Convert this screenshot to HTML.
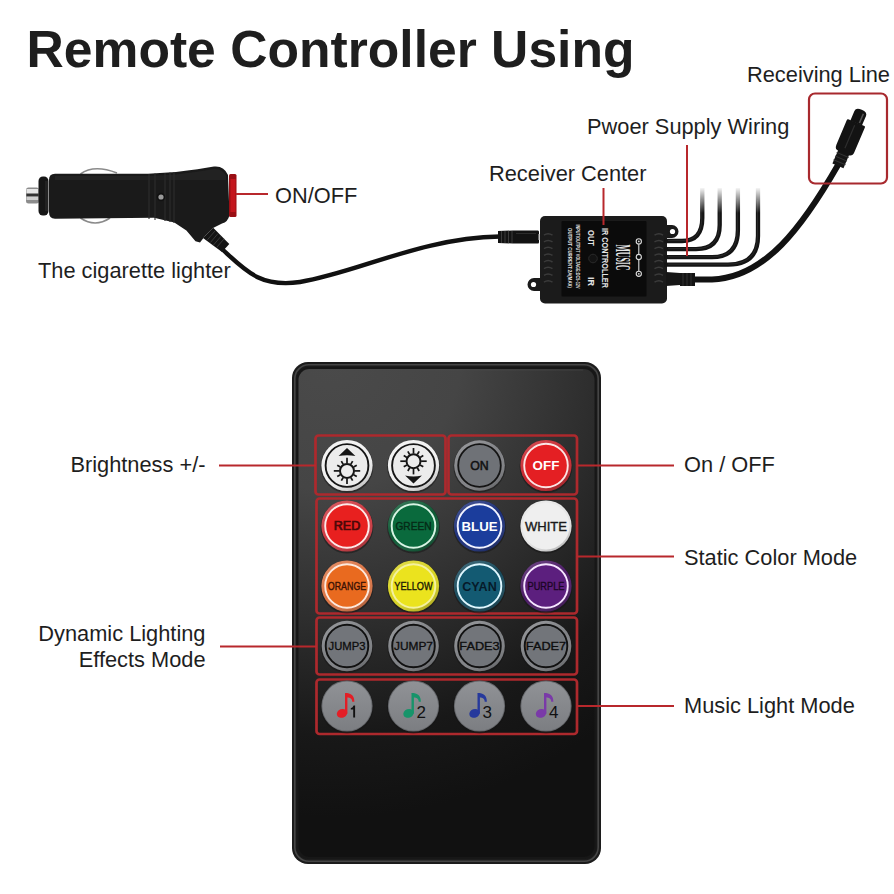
<!DOCTYPE html>
<html><head><meta charset="utf-8">
<style>
html,body{margin:0;padding:0;background:#fff;}
body{width:894px;height:894px;overflow:hidden;position:relative;}
svg{position:absolute;left:0;top:0;}
.t{font-family:"Liberation Sans",sans-serif;fill:#1e1e1e;}
</style></head><body>
<svg width="894" height="894" viewBox="0 0 894 894">
<defs>
  <linearGradient id="face" x1="0" y1="0" x2="0.35" y2="1">
    <stop offset="0" stop-color="#474747"/>
    <stop offset="0.25" stop-color="#3a3a3a"/>
    <stop offset="0.55" stop-color="#262626"/>
    <stop offset="1" stop-color="#111"/>
  </linearGradient>
  <radialGradient id="face2" gradientUnits="userSpaceOnUse" cx="330" cy="360" r="520">
    <stop offset="0" stop-color="#4a4a4a"/>
    <stop offset="0.25" stop-color="#454545"/>
    <stop offset="0.5" stop-color="#2e2e2e"/>
    <stop offset="0.72" stop-color="#181818"/>
    <stop offset="0.88" stop-color="#111111"/>
  </radialGradient>
  <linearGradient id="mgrad" x1="0" y1="0" x2="0" y2="1">
    <stop offset="0" stop-color="#909296"/>
    <stop offset="1" stop-color="#7c7e82"/>
  </linearGradient>
  <linearGradient id="shade" x1="0.2" y1="0" x2="0.8" y2="1">
    <stop offset="0" stop-color="#fff" stop-opacity="0.18"/>
    <stop offset="0.5" stop-color="#fff" stop-opacity="0"/>
    <stop offset="1" stop-color="#000" stop-opacity="0.25"/>
  </linearGradient>
  <linearGradient id="fadeW" x1="0" y1="0" x2="0" y2="1">
    <stop offset="0" stop-color="#fff" stop-opacity="1"/>
    <stop offset="1" stop-color="#fff" stop-opacity="0"/>
  </linearGradient>
</defs>
<rect width="894" height="894" fill="#fff"/>

<!-- Title -->
<text class="t" x="26.5" y="67" font-size="51.5" font-weight="bold" fill="#222" textLength="608" lengthAdjust="spacingAndGlyphs">Remote Controller Using</text>

<!-- labels -->
<text class="t" x="747" y="82" font-size="21.8">Receiving Line</text>
<text class="t" x="587" y="134" font-size="21.8">Pwoer Supply Wiring</text>
<text class="t" x="489" y="181" font-size="21.8">Receiver Center</text>
<text class="t" x="275" y="202.5" font-size="21.8">ON/OFF</text>
<text class="t" x="38" y="278" font-size="21.8">The cigarette lighter</text>
<text class="t" x="205.5" y="472" font-size="21.8" text-anchor="end">Brightness +/-</text>
<text class="t" x="205.5" y="641" font-size="21.8" text-anchor="end">Dynamic Lighting</text>
<text class="t" x="205.5" y="667" font-size="21.8" text-anchor="end">Effects Mode</text>
<text class="t" x="684" y="472" font-size="21.8">On / OFF</text>
<text class="t" x="684" y="565" font-size="21.8">Static Color Mode</text>
<text class="t" x="684" y="713" font-size="21.8">Music Light Mode</text>



<!-- cigarette lighter cable -->
<path d="M222 249 C 245 270, 260 288, 300 282 C 360 272, 420 238, 500 236.5" stroke="#111" stroke-width="4.4" fill="none"/>

<!-- lighter -->
<g>
  <rect x="26" y="187.5" width="13" height="16" rx="2.5" fill="#8c8c8c"/>
  <rect x="26.5" y="189" width="12" height="4" fill="#e6e6e6"/>
  <rect x="26.5" y="197" width="12" height="3" fill="#cfcfcf"/>
  <rect x="26.5" y="194" width="12" height="2" fill="#333"/>
  <path d="M80.5 174 Q94 164 117 173" stroke="#8a8a8a" stroke-width="1.7" fill="none"/>
  <path d="M80.5 218 Q95 228 110 218" stroke="#8a8a8a" stroke-width="1.7" fill="none"/>
  <rect x="38.5" y="176.5" width="10" height="39" rx="4.5" fill="#161616"/><rect x="45" y="181" width="3" height="30" fill="#222"/>
  <path d="M49 180 Q49 173.8 55 173.8 L148 173.8 L176 172 Q200 169 214 166.5 Q224 165.5 228 175 L229.5 215 Q228 222 222 223.5 L213 228 L205 236 L200 242.6 L195.5 241.3 L186.4 230.5 L174.3 222.5 L154 217.8 L55 218.8 Q49 218.8 49 212 Z" fill="#1a1a1a"/>
  <path d="M55 176 L148 176 L176 174.5 Q200 171.5 214 169 Q222 168 226 176 L226 180 L55 180 Z" fill="#262626" opacity="0.7"/>
  <g stroke="#2e2e2e" stroke-width="1.1"><line x1="149" y1="174" x2="149" y2="219"/><line x1="155" y1="173.5" x2="155" y2="220"/><line x1="165" y1="173" x2="165" y2="221"/><line x1="170" y1="172.5" x2="170" y2="222"/><line x1="174" y1="172" x2="174" y2="223"/></g>
  <circle cx="161" cy="197" r="4.2" fill="#111"/>
  <circle cx="161" cy="197" r="2.6" fill="#9a9a9a"/>
  <path d="M203 238 L213.2 227.8 L229.3 244 L222 252 Z" fill="#141414"/>
  <g stroke="#3a3a3a" stroke-width="1"><line x1="207.3" y1="239.9" x2="214.9" y2="231.1"/><line x1="210.4" y1="242.5" x2="217.9" y2="233.7"/><line x1="213.4" y1="245.1" x2="221.0" y2="236.3"/><line x1="216.4" y1="247.7" x2="224.0" y2="238.9"/></g>
  <rect x="229" y="174" width="7.5" height="43" rx="1.5" fill="#9a0e14"/>
  <rect x="230.5" y="179" width="5" height="33" fill="#c4161d"/>
</g>
<!-- receiver box -->
<g>

  <path d="M498 231 L513 230.5 L538 230.5 Q539 230.5 539 232 L539 242 Q539 243.5 538 243.5 L513 243.5 L498 243 Z" fill="#121212"/>
  <g stroke="#3a3a3a" stroke-width="1"><line x1="501.5" y1="231" x2="501.5" y2="243"/><line x1="505" y1="231" x2="505" y2="243"/><line x1="508.5" y1="231" x2="508.5" y2="243"/><line x1="512" y1="231" x2="512" y2="243"/></g>
  <line x1="516" y1="233.5" x2="536" y2="233.5" stroke="#2c2c2c" stroke-width="1"/>
  <rect x="538.5" y="234" width="2.5" height="6" fill="#c8c8c8"/>
  <path d="M664 225 L672 225 A6.5 6.5 0 0 1 672 238 L664 238 Z" fill="#1a1a1a"/>
  <circle cx="672.5" cy="231.5" r="2.6" fill="#fff"/>
  <path d="M543 278 L534 278 A6.5 6.5 0 0 0 534 291 L543 291 Z" fill="#1a1a1a"/>
  <circle cx="533.5" cy="284.5" r="2.6" fill="#fff"/>
  <rect x="540" y="216" width="127" height="87.5" rx="5" fill="#1b1b1b"/>
  <rect x="561.5" y="221" width="85" height="75.5" rx="1" fill="#0b0b0b"/>
  <g stroke="#3b3b3b" stroke-width="1.5" fill="none"><path d="M544 235.2 Q548 232.4 552.5 235.2"/><path d="M654.5 235.2 Q659 232.4 663 235.2"/><path d="M544 241.9 Q548 239.1 552.5 241.9"/><path d="M654.5 241.9 Q659 239.1 663 241.9"/><path d="M544 248.6 Q548 245.8 552.5 248.6"/><path d="M654.5 248.6 Q659 245.8 663 248.6"/><path d="M544 255.3 Q548 252.5 552.5 255.3"/><path d="M654.5 255.3 Q659 252.5 663 255.3"/><path d="M544 262.0 Q548 259.2 552.5 262.0"/><path d="M654.5 262.0 Q659 259.2 663 262.0"/><path d="M544 268.7 Q548 265.9 552.5 268.7"/><path d="M654.5 268.7 Q659 265.9 663 268.7"/><path d="M544 275.4 Q548 272.6 552.5 275.4"/><path d="M654.5 275.4 Q659 272.6 663 275.4"/><path d="M544 282.1 Q548 279.3 552.5 282.1"/><path d="M654.5 282.1 Q659 279.3 663 282.1"/></g>
  <g font-family="Liberation Sans,sans-serif" fill="#e4e4e4" font-weight="bold">
    <text transform="translate(601.5,228) rotate(90)" font-size="9" textLength="60" lengthAdjust="spacingAndGlyphs">IR CONTROLLER</text>
    <text transform="translate(588,230) rotate(90)" font-size="9" textLength="16" lengthAdjust="spacingAndGlyphs">OUT</text>
    <text transform="translate(588,277) rotate(90)" font-size="9" textLength="9" lengthAdjust="spacingAndGlyphs">IR</text>
    <text transform="translate(576,224.5) rotate(90)" font-size="5.6" textLength="64" lengthAdjust="spacingAndGlyphs">INPUT/OUTPUT VOLTAGE:DC5-12V</text>
    <text transform="translate(567.5,228) rotate(90)" font-size="5.6" textLength="60" lengthAdjust="spacingAndGlyphs">OUTPUT CURRENT:2A(MAX)</text>
    <text transform="translate(615.5,244.5) rotate(90)" font-size="21" font-family="Liberation Serif,serif" textLength="26" lengthAdjust="spacingAndGlyphs">MUSIC</text>
  </g>
  <circle cx="593" cy="258.5" r="4.3" fill="#131313" stroke="#2a2a2a" stroke-width="1"/>
  <g stroke="#dcdcdc" stroke-width="1.1" fill="none">
    <circle cx="638.8" cy="241.4" r="2.6"/><circle cx="638.8" cy="257" r="2.6"/><circle cx="638.8" cy="273.8" r="2.6"/>
    <line x1="638.8" y1="244" x2="638.8" y2="254.4"/><line x1="638.8" y1="259.6" x2="638.8" y2="271.2"/>
  </g>
  <circle cx="638.8" cy="241.4" r="0.9" fill="#dcdcdc"/><circle cx="638.8" cy="273.8" r="0.9" fill="#dcdcdc"/>
</g>
<!-- power wires -->
<g stroke="#141414" stroke-width="4.3" fill="none">
  <path d="M664 241 L682 241 Q702.3 241 702.3 218 L702.3 188"/>
  <path d="M664 249.1 L696 249.1 Q719.7 249.1 719.7 225 L719.7 188"/>
  <path d="M664 257.2 L712 257.2 Q737.9 257.2 737.9 230 L737.9 188"/>
  <path d="M664 264.6 L728 264.6 Q758 264.6 758 236 L758 188"/>
</g>
<g stroke="#3a3a3a" stroke-width="0.8" fill="none" opacity="0.7">
  <path d="M668 240.6 L682 240.6 Q701.8 240.6 701.8 218 L701.8 200"/>
  <path d="M668 248.7 L696 248.7 Q719.2 248.7 719.2 225 L719.2 200"/>
  <path d="M668 256.8 L712 256.8 Q737.4 256.8 737.4 230 L737.4 200"/>
  <path d="M668 264.2 L728 264.2 Q757.5 264.2 757.5 236 L757.5 200"/>
</g>
<rect x="695" y="187" width="70" height="26" fill="url(#fadeW)"/>
<!-- receiving cable -->
<path d="M692 279.5 L712 279.5 C 765 278, 803 226, 838 165" stroke="#121212" stroke-width="6" fill="none"/>
<path d="M666 272 L680 273 L680 285 L666 286 Z" fill="#161616"/>
<path d="M680 273 L695 273 L695 286 L680 286 Z" fill="#141414"/>
<g stroke="#303030" stroke-width="1"><line x1="683" y1="273" x2="683" y2="286"/><line x1="687" y1="273" x2="687" y2="286"/><line x1="691" y1="273" x2="691" y2="286"/></g>
<!-- connector -->
<g transform="translate(856.3,122.7) rotate(23)">
  <rect x="-6" y="31" width="12" height="16" fill="#151515"/>
  <g stroke="#333" stroke-width="1"><line x1="-6.5" y1="35" x2="6.5" y2="35"/><line x1="-6.5" y1="39" x2="6.5" y2="39"/><line x1="-6.5" y1="43" x2="6.5" y2="43"/></g>
  <path d="M-9.75 1 Q-9.75 0 -8.75 0 L8.75 0 Q9.75 0 9.75 1 L9.75 28 Q9.75 33 5 33 L-5 33 Q-9.75 33 -9.75 28 Z" fill="#131313"/>
  <line x1="-0.5" y1="3" x2="-0.5" y2="28" stroke="#2e2e2e" stroke-width="1.2"/>
  <path d="M-6.3 -10 Q-6.3 -14 0 -14 Q6.3 -14 6.3 -10 L6.3 0.5 L-6.3 0.5 Z" fill="#121212"/>
  <line x1="3" y1="-11" x2="3" y2="-1" stroke="#555" stroke-width="1.6"/>
</g>
<rect x="809" y="93.5" width="78" height="90" rx="6" fill="none" stroke="#a8292e" stroke-width="2.2"/>

<!-- remote -->
<g>
  <rect x="292" y="362" width="309" height="502" rx="16" fill="#1c1c1c"/>
  <rect x="294.8" y="364.8" width="303.4" height="496.4" rx="14" fill="none" stroke="#454545" stroke-width="1.6"/>
  <rect x="296.5" y="367" width="300" height="492" rx="12" fill="#171717"/>
  <rect x="298.5" y="369" width="296" height="488" rx="11" fill="url(#face2)"/>
  <path d="M310 370 L583 370" stroke="#4a4a4a" stroke-width="1" opacity="0.6"/>
  <!-- red boxes -->
  <g fill="none" stroke="#ad292d" stroke-width="2.7">
    <rect x="315.5" y="435.5" width="130" height="59" rx="3"/>
    <rect x="448.5" y="435.5" width="128.5" height="59" rx="3"/>
    <rect x="316.5" y="498.5" width="260.5" height="115" rx="3"/>
    <rect x="316.5" y="617.5" width="260.5" height="57" rx="3"/>
    <rect x="316.5" y="679.5" width="260.5" height="54.5" rx="3"/>
  </g>
</g>
<g font-family="Liberation Sans,sans-serif"><circle cx="347" cy="466.5" r="26.400000000000002" fill="#141414" opacity="0.5"/><circle cx="347" cy="465.5" r="25.6" fill="#f1f1f1"/><circle cx="347" cy="465.5" r="25.6" fill="url(#shade)"/><circle cx="347" cy="465.5" r="21.4" fill="#ececec" stroke="#161616" stroke-width="1.9"/>
<circle cx="347" cy="470.9" r="7.0" fill="#ececec" stroke="#151515" stroke-width="2"/><line x1="347.00" y1="463.30" x2="347.00" y2="457.70" stroke="#151515" stroke-width="1.7"/><line x1="350.80" y1="464.32" x2="352.65" y2="461.11" stroke="#151515" stroke-width="1.7"/><line x1="353.58" y1="467.10" x2="356.79" y2="465.25" stroke="#151515" stroke-width="1.7"/><line x1="354.60" y1="470.90" x2="360.20" y2="470.90" stroke="#151515" stroke-width="1.7"/><line x1="353.58" y1="474.70" x2="356.79" y2="476.55" stroke="#151515" stroke-width="1.7"/><line x1="350.80" y1="477.48" x2="352.65" y2="480.69" stroke="#151515" stroke-width="1.7"/><line x1="347.00" y1="478.50" x2="347.00" y2="484.10" stroke="#151515" stroke-width="1.7"/><line x1="343.20" y1="477.48" x2="341.35" y2="480.69" stroke="#151515" stroke-width="1.7"/><line x1="340.42" y1="474.70" x2="337.21" y2="476.55" stroke="#151515" stroke-width="1.7"/><line x1="339.40" y1="470.90" x2="333.80" y2="470.90" stroke="#151515" stroke-width="1.7"/><line x1="340.42" y1="467.10" x2="337.21" y2="465.25" stroke="#151515" stroke-width="1.7"/><line x1="343.20" y1="464.32" x2="341.35" y2="461.11" stroke="#151515" stroke-width="1.7"/>
<path d="M347 448.1 L355.4 456.1 Q347 454.3 338.6 456.1 Z" fill="#151515"/>
<circle cx="413.5" cy="466.5" r="26.400000000000002" fill="#141414" opacity="0.5"/><circle cx="413.5" cy="465.5" r="25.6" fill="#f1f1f1"/><circle cx="413.5" cy="465.5" r="25.6" fill="url(#shade)"/><circle cx="413.5" cy="465.5" r="21.4" fill="#ececec" stroke="#161616" stroke-width="1.9"/>
<circle cx="413.5" cy="461.2" r="7.0" fill="#ececec" stroke="#151515" stroke-width="2"/><line x1="413.50" y1="453.60" x2="413.50" y2="448.00" stroke="#151515" stroke-width="1.7"/><line x1="417.30" y1="454.62" x2="419.15" y2="451.41" stroke="#151515" stroke-width="1.7"/><line x1="420.08" y1="457.40" x2="423.29" y2="455.55" stroke="#151515" stroke-width="1.7"/><line x1="421.10" y1="461.20" x2="426.70" y2="461.20" stroke="#151515" stroke-width="1.7"/><line x1="420.08" y1="465.00" x2="423.29" y2="466.85" stroke="#151515" stroke-width="1.7"/><line x1="417.30" y1="467.78" x2="419.15" y2="470.99" stroke="#151515" stroke-width="1.7"/><line x1="413.50" y1="468.80" x2="413.50" y2="474.40" stroke="#151515" stroke-width="1.7"/><line x1="409.70" y1="467.78" x2="407.85" y2="470.99" stroke="#151515" stroke-width="1.7"/><line x1="406.92" y1="465.00" x2="403.71" y2="466.85" stroke="#151515" stroke-width="1.7"/><line x1="405.90" y1="461.20" x2="400.30" y2="461.20" stroke="#151515" stroke-width="1.7"/><line x1="406.92" y1="457.40" x2="403.71" y2="455.55" stroke="#151515" stroke-width="1.7"/><line x1="409.70" y1="454.62" x2="407.85" y2="451.41" stroke="#151515" stroke-width="1.7"/>
<path d="M413.5 483.6 L421.9 475.6 Q413.5 477.4 405.1 475.6 Z" fill="#151515"/>
<circle cx="479.5" cy="466.5" r="26.1" fill="#141414" opacity="0.5"/><circle cx="479.5" cy="465.5" r="25.3" fill="#808185"/><circle cx="479.5" cy="465.5" r="25.3" fill="url(#shade)"/><circle cx="479.5" cy="465.5" r="21.3" fill="#6f7277" stroke="#141414" stroke-width="1.8"/>
<text x="479.5" y="469.93" font-size="12.3" font-weight="normal" fill="#111" text-anchor="middle" textLength="18.5" lengthAdjust="spacingAndGlyphs" stroke="#111" stroke-width="0.5">ON</text>
<circle cx="546" cy="466.5" r="26.400000000000002" fill="#141414" opacity="0.5"/><circle cx="546" cy="465.5" r="25.6" fill="#c9262e"/><circle cx="546" cy="465.5" r="25.6" fill="url(#shade)"/><circle cx="546" cy="465.5" r="21.8" fill="#e41f23" stroke="#fbe6e6" stroke-width="1.9"/>
<text x="546" y="470.32" font-size="13.4" font-weight="bold" fill="#fff" text-anchor="middle">OFF</text>
<circle cx="347" cy="527" r="26.400000000000002" fill="#141414" opacity="0.5"/><circle cx="347" cy="526" r="25.6" fill="#cf3840"/><circle cx="347" cy="526" r="25.6" fill="url(#shade)"/><circle cx="347" cy="526" r="21.8" fill="#e8201f" stroke="#fde8e8" stroke-width="1.9"/>
<text x="347" y="530.43" font-size="12.3" font-weight="normal" fill="#4a0808" text-anchor="middle" textLength="26.5" lengthAdjust="spacingAndGlyphs" stroke="#4a0808" stroke-width="0.7">RED</text>
<circle cx="413.5" cy="527" r="26.400000000000002" fill="#141414" opacity="0.5"/><circle cx="413.5" cy="526" r="25.6" fill="#0d5a35"/><circle cx="413.5" cy="526" r="25.6" fill="url(#shade)"/><circle cx="413.5" cy="526" r="21.8" fill="#0a6a3d" stroke="#d8f4e4" stroke-width="1.9"/>
<text x="413.5" y="530.14" font-size="11.5" font-weight="normal" fill="#052a16" text-anchor="middle" textLength="36" lengthAdjust="spacingAndGlyphs" stroke="#052a16" stroke-width="0.4">GREEN</text>
<circle cx="479.5" cy="527" r="26.400000000000002" fill="#141414" opacity="0.5"/><circle cx="479.5" cy="526" r="25.6" fill="#1c2f7a"/><circle cx="479.5" cy="526" r="25.6" fill="url(#shade)"/><circle cx="479.5" cy="526" r="21.8" fill="#1b3d9c" stroke="#f2f4ff" stroke-width="1.9"/>
<text x="479.5" y="530.75" font-size="13.2" font-weight="bold" fill="#ffffff" text-anchor="middle">BLUE</text>
<circle cx="546" cy="527" r="26.400000000000002" fill="#141414" opacity="0.5"/><circle cx="546" cy="526" r="25.6" fill="#e6e6e6"/><circle cx="546" cy="526" r="25.6" fill="url(#shade)"/><circle cx="546" cy="526" r="23.5" fill="#efefef" stroke="#efefef" stroke-width="0.1"/>
<text x="546" y="530.68" font-size="13.0" font-weight="normal" fill="#1a1a1a" text-anchor="middle" textLength="42" lengthAdjust="spacingAndGlyphs" stroke="#1a1a1a" stroke-width="0.4">WHITE</text>
<circle cx="347" cy="587" r="26.400000000000002" fill="#141414" opacity="0.5"/><circle cx="347" cy="586" r="25.6" fill="#dc7444"/><circle cx="347" cy="586" r="25.6" fill="url(#shade)"/><circle cx="347" cy="586" r="21.8" fill="#e96a1f" stroke="#fde9dd" stroke-width="1.9"/>
<text x="347" y="590.03" font-size="11.2" font-weight="normal" fill="#3a1205" text-anchor="middle" textLength="38.4" lengthAdjust="spacingAndGlyphs" stroke="#3a1205" stroke-width="0.4">ORANGE</text>
<circle cx="413.5" cy="587" r="26.400000000000002" fill="#141414" opacity="0.5"/><circle cx="413.5" cy="586" r="25.6" fill="#d8d321"/><circle cx="413.5" cy="586" r="25.6" fill="url(#shade)"/><circle cx="413.5" cy="586" r="21.8" fill="#ebe31e" stroke="#f4f1a0" stroke-width="1.9"/>
<text x="413.5" y="590.03" font-size="11.2" font-weight="normal" fill="#1a1a05" text-anchor="middle" textLength="38.4" lengthAdjust="spacingAndGlyphs" stroke="#1a1a05" stroke-width="0.4">YELLOW</text>
<circle cx="479.5" cy="587" r="26.400000000000002" fill="#141414" opacity="0.5"/><circle cx="479.5" cy="586" r="25.6" fill="#174a5c"/><circle cx="479.5" cy="586" r="25.6" fill="url(#shade)"/><circle cx="479.5" cy="586" r="21.8" fill="#135a72" stroke="#dff7ff" stroke-width="1.9"/>
<text x="479.5" y="590.54" font-size="12.6" font-weight="bold" fill="#061a2a" text-anchor="middle" textLength="34.4" lengthAdjust="spacingAndGlyphs">CYAN</text>
<circle cx="546" cy="587" r="26.400000000000002" fill="#141414" opacity="0.5"/><circle cx="546" cy="586" r="25.6" fill="#4b1a66"/><circle cx="546" cy="586" r="25.6" fill="url(#shade)"/><circle cx="546" cy="586" r="21.8" fill="#5c1f7e" stroke="#f6e6ff" stroke-width="1.9"/>
<text x="546" y="590.03" font-size="11.2" font-weight="normal" fill="#1c0626" text-anchor="middle" textLength="36.9" lengthAdjust="spacingAndGlyphs" stroke="#1c0626" stroke-width="0.4">PURPLE</text>
<circle cx="347" cy="647" r="26.1" fill="#141414" opacity="0.5"/><circle cx="347" cy="646" r="25.3" fill="#7f8185"/><circle cx="347" cy="646" r="25.3" fill="url(#shade)"/><circle cx="347" cy="646" r="21.3" fill="#72757a" stroke="#111" stroke-width="1.9"/>
<text x="347" y="650.25" font-size="11.8" font-weight="normal" fill="#0e0e0e" text-anchor="middle" textLength="36.9" lengthAdjust="spacingAndGlyphs" stroke="#0e0e0e" stroke-width="0.35">JUMP3</text>
<circle cx="413.5" cy="647" r="26.1" fill="#141414" opacity="0.5"/><circle cx="413.5" cy="646" r="25.3" fill="#7f8185"/><circle cx="413.5" cy="646" r="25.3" fill="url(#shade)"/><circle cx="413.5" cy="646" r="21.3" fill="#72757a" stroke="#111" stroke-width="1.9"/>
<text x="413.5" y="650.25" font-size="11.8" font-weight="normal" fill="#0e0e0e" text-anchor="middle" textLength="39" lengthAdjust="spacingAndGlyphs" stroke="#0e0e0e" stroke-width="0.35">JUMP7</text>
<circle cx="479.5" cy="647" r="26.1" fill="#141414" opacity="0.5"/><circle cx="479.5" cy="646" r="25.3" fill="#7f8185"/><circle cx="479.5" cy="646" r="25.3" fill="url(#shade)"/><circle cx="479.5" cy="646" r="21.3" fill="#72757a" stroke="#111" stroke-width="1.9"/>
<text x="479.5" y="650.25" font-size="11.8" font-weight="normal" fill="#0e0e0e" text-anchor="middle" textLength="40.3" lengthAdjust="spacingAndGlyphs" stroke="#0e0e0e" stroke-width="0.35">FADE3</text>
<circle cx="546" cy="647" r="26.1" fill="#141414" opacity="0.5"/><circle cx="546" cy="646" r="25.3" fill="#7f8185"/><circle cx="546" cy="646" r="25.3" fill="url(#shade)"/><circle cx="546" cy="646" r="21.3" fill="#72757a" stroke="#111" stroke-width="1.9"/>
<text x="546" y="650.25" font-size="11.8" font-weight="normal" fill="#0e0e0e" text-anchor="middle" textLength="40.3" lengthAdjust="spacingAndGlyphs" stroke="#0e0e0e" stroke-width="0.35">FADE7</text>
<circle cx="347" cy="707" r="26.4" fill="#141414" opacity="0.5"/>
<circle cx="347" cy="706" r="25.6" fill="#66686c"/>
<circle cx="347" cy="706" r="24.6" fill="url(#mgrad)"/>
<ellipse cx="342.0" cy="713.4" rx="5.3" ry="4.3" transform="rotate(-20 342.0 713.4)" fill="#e31e26"/>
<rect x="345" y="693.2" width="2.4" height="20.5" fill="#e31e26"/>
<path d="M345 693.1 C 349 693.1, 354.4 694, 354.4 701.7 L352.2 701.7 C 352.2 698.7, 350 697.6, 347.3 697.6 Z" fill="#e31e26"/>
<path d="M355.1 717.6 L355.1 705.6 L353.6 705.6 Q353 707.6 350.8 708.2 L350.8 709.6 L353.2 709.6 L353.2 717.6 Z" fill="#111"/>
<circle cx="413.5" cy="707" r="26.4" fill="#141414" opacity="0.5"/>
<circle cx="413.5" cy="706" r="25.6" fill="#66686c"/>
<circle cx="413.5" cy="706" r="24.6" fill="url(#mgrad)"/>
<ellipse cx="408.5" cy="713.4" rx="5.3" ry="4.3" transform="rotate(-20 408.5 713.4)" fill="#17946a"/>
<rect x="411.5" y="693.2" width="2.4" height="20.5" fill="#17946a"/>
<path d="M411.5 693.1 C 415.5 693.1, 420.9 694, 420.9 701.7 L418.7 701.7 C 418.7 698.7, 416.5 697.6, 413.8 697.6 Z" fill="#17946a"/>
<text x="421.2" y="717.6" font-size="17" fill="#111" text-anchor="middle">2</text>
<circle cx="479.5" cy="707" r="26.4" fill="#141414" opacity="0.5"/>
<circle cx="479.5" cy="706" r="25.6" fill="#66686c"/>
<circle cx="479.5" cy="706" r="24.6" fill="url(#mgrad)"/>
<ellipse cx="474.5" cy="713.4" rx="5.3" ry="4.3" transform="rotate(-20 474.5 713.4)" fill="#26399c"/>
<rect x="477.5" y="693.2" width="2.4" height="20.5" fill="#26399c"/>
<path d="M477.5 693.1 C 481.5 693.1, 486.9 694, 486.9 701.7 L484.7 701.7 C 484.7 698.7, 482.5 697.6, 479.8 697.6 Z" fill="#26399c"/>
<text x="487.2" y="717.6" font-size="17" fill="#111" text-anchor="middle">3</text>
<circle cx="546" cy="707" r="26.4" fill="#141414" opacity="0.5"/>
<circle cx="546" cy="706" r="25.6" fill="#66686c"/>
<circle cx="546" cy="706" r="24.6" fill="url(#mgrad)"/>
<ellipse cx="541.0" cy="713.4" rx="5.3" ry="4.3" transform="rotate(-20 541.0 713.4)" fill="#7a3aa8"/>
<rect x="544" y="693.2" width="2.4" height="20.5" fill="#7a3aa8"/>
<path d="M544 693.1 C 548 693.1, 553.4 694, 553.4 701.7 L551.2 701.7 C 551.2 698.7, 549 697.6, 546.3 697.6 Z" fill="#7a3aa8"/>
<text x="553.7" y="717.6" font-size="17" fill="#111" text-anchor="middle">4</text></g>
<!-- leader lines -->
<g stroke="#b8282c" stroke-width="2" fill="none">
  <line x1="236" y1="194" x2="268" y2="194"/>
  <line x1="603.5" y1="188" x2="603.5" y2="225"/>
  <line x1="687" y1="145" x2="687" y2="256"/>
  <line x1="219" y1="465.5" x2="316" y2="465.5"/>
  <line x1="220" y1="646.5" x2="317" y2="646.5"/>
  <line x1="577" y1="465.5" x2="674" y2="465.5"/>
  <line x1="577" y1="556.5" x2="674" y2="556.5"/>
  <line x1="577" y1="706" x2="674" y2="706"/>
</g>
</svg>
</body></html>
